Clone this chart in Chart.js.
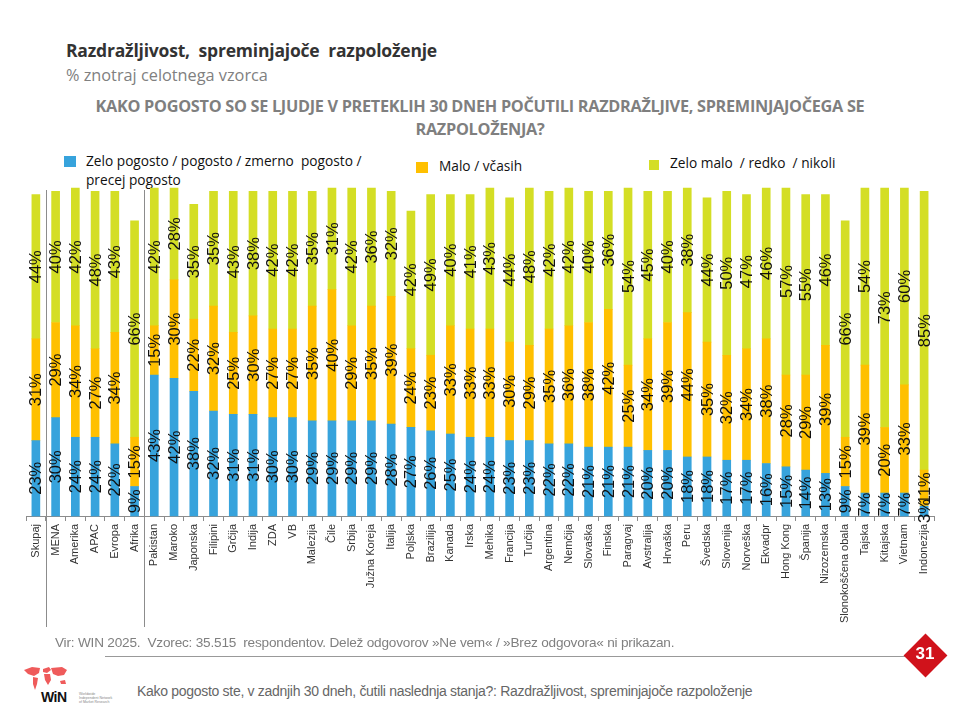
<!DOCTYPE html>
<html>
<head>
<meta charset="utf-8">
<script src="https://cdn.jsdelivr.net/npm/chart.js@4"></script>
<style>
  html, body { margin:0; padding:0; background:#fff; }
  body { width:960px; height:720px; position:relative; overflow:hidden; font-family:"Liberation Sans", Arial, sans-serif; }
  #wrap { position:absolute; left:0; top:0; width:960px; height:640px; }
  .abs { position:absolute; white-space:nowrap; }
  .sq { position:absolute; width:12px; height:11px; }
</style>
</head>
<body>
<div class="abs" style="left:66px;top:38px;font-size:17.5px;font-weight:bold;color:#333;font-family:'Open Sans',sans-serif;letter-spacing:-0.2px;">Razdražljivost,&nbsp; spreminjajoče&nbsp; razpoloženje</div>
<div class="abs" style="left:66px;top:64px;font-size:16.3px;color:#808080;font-family:'Open Sans',sans-serif;">% znotraj celotnega vzorca</div>
<div class="abs" style="left:0;width:960px;top:95px;text-align:center;font-size:16.3px;font-weight:bold;color:#7f7f7f;line-height:23px;font-family:'Open Sans',sans-serif;letter-spacing:-0.3px;">KAKO POGOSTO SO SE LJUDJE V PRETEKLIH 30 DNEH POČUTILI RAZDRAŽLJIVE, SPREMINJAJOČEGA SE<br>RAZPOLOŽENJA?</div>

<div class="sq" style="left:64px;top:156px;background:#37a3dc;"></div>
<div class="abs" style="left:86px;top:151px;font-size:13.7px;color:#111;line-height:19px;font-family:'Open Sans',sans-serif;">Zelo pogosto / pogosto / zmerno&nbsp; pogosto /<br>precej pogosto</div>
<div class="sq" style="left:416px;top:162px;background:#ffc000;"></div>
<div class="abs" style="left:439px;top:156px;font-size:13.7px;color:#111;font-family:'Open Sans',sans-serif;">Malo / včasih</div>
<div class="sq" style="left:649px;top:160px;width:10px;height:10px;background:#d4de25;"></div>
<div class="abs" style="left:670px;top:153px;font-size:13.7px;color:#111;font-family:'Open Sans',sans-serif;">Zelo malo&nbsp; / redko&nbsp; / nikoli</div>

<div id="wrap"><canvas id="c" width="960" height="640"></canvas></div>

<div class="abs" style="left:55px;top:635px;font-size:13.6px;color:#808080;letter-spacing:-0.2px;">Vir: WIN 2025.&nbsp; Vzorec: 35.515&nbsp; respondentov. Delež odgovorov »Ne vem« / »Brez odgovora« ni prikazan.</div>
<div class="abs" style="left:105px;top:656px;width:800px;height:1px;background:#999;"></div>
<div class="abs" style="left:910px;top:640px;width:31px;height:31px;background:#d0121b;transform:rotate(45deg);"></div>
<div class="abs" style="left:903px;top:644px;width:44px;text-align:center;font-size:17px;font-weight:bold;color:#fff;">31</div>

<svg class="abs" style="left:22px;top:666px;" width="46" height="26" viewBox="0 0 46 26">
  <g fill="#ef5b5b">
    <path d="M2 4 L10 1 L18 2 L17 7 L12 10 L9 9 L6 8 Z"/>
    <path d="M11 11 L16 12 L15 18 L13 24 L11 18 Z"/>
    <path d="M21 3 L27 1 L29 4 L25 7 L21 6 Z"/>
    <path d="M22 8 L28 8 L29 14 L26 19 L23 14 Z"/>
    <path d="M29 2 L40 1 L45 4 L42 9 L36 10 L31 8 Z"/>
    <path d="M38 15 L43 14 L44 18 L39 18 Z"/>
  </g>
</svg>
<div class="abs" style="left:41px;top:689px;font-size:14px;font-weight:bold;color:#111;letter-spacing:-0.5px;">WiN</div>
<div class="abs" style="left:79px;top:692px;font-size:3.5px;line-height:4px;color:#888;">Worldwide<br>Independent Network<br>of Market Research</div>
<div class="abs" style="left:137px;top:683px;font-size:14px;color:#666;letter-spacing:-0.3px;">Kako pogosto ste, v zadnjih 30 dneh, čutili naslednja stanja?: Razdražljivost, spreminjajoče razpoloženje</div>

<script>
const categories = ["Skupaj","MENA","Amerika","APAC","Evropa","Afrika","Pakistan","Maroko","Japonska","Filipini","Grčija","Indija","ZDA","VB","Malezija","Čile","Srbija","Južna Koreja","Italija","Poljska","Brazilija","Kanada","Irska","Mehika","Francija","Turčija","Argentina","Nemčija","Slovaška","Finska","Paragvaj","Avstralija","Hrvaška","Peru","Švedska","Slovenija","Norveška","Ekvadpr","Hong Kong","Španija","Nizozemska","Slonokoščena obala","Tajska","Kitajska","Vietnam","Indonezija"];
const often = [23,30,24,24,22,9,43,42,38,32,31,31,30,30,29,29,29,29,28,27,26,25,24,24,23,23,22,22,21,21,21,20,20,18,18,17,17,16,15,14,13,9,7,7,7,3];
const sometimes = [31,29,34,27,34,15,15,30,22,32,25,30,27,27,35,40,29,35,39,24,23,33,33,33,30,29,35,36,38,42,25,34,39,44,35,32,34,38,28,29,39,15,39,20,33,11];
const rarely = [44,40,42,48,43,66,42,28,35,35,43,38,42,42,35,31,42,36,32,42,49,40,41,43,44,48,42,42,40,36,54,45,40,38,44,50,47,46,57,55,46,66,54,73,60,85];
const seriesNames = ["Zelo pogosto / pogosto / zmerno pogosto / precej pogosto","Malo / včasih","Zelo malo / redko / nikoli"];
const separatorsAfter = [0,5];

const labelPlugin = {
  id:'segLabels',
  afterDatasetsDraw(chart){
    const ctx = chart.ctx;
    ctx.save();
    ctx.font = '16.5px "Liberation Sans", Arial, sans-serif';
    ctx.fillStyle = '#111';
    ctx.textAlign = 'center';
    ctx.textBaseline = 'middle';
    chart.data.datasets.forEach((ds, di) => {
      const meta = chart.getDatasetMeta(di);
      meta.data.forEach((bar, i) => {
        const v = ds.data[i];
        const cy = (bar.y + bar.base) / 2;
        ctx.save();
        ctx.translate(bar.x, cy);
        ctx.rotate(-Math.PI/2);
        ctx.fillText(v + '%', 0, 1);
        ctx.restore();
      });
    });
    const xs = chart.scales.x;
    ctx.strokeStyle = '#8c8c8c';
    ctx.lineWidth = 1;
    separatorsAfter.forEach(idx => {
      const x = Math.round((xs.getPixelForValue(idx) + xs.getPixelForValue(idx+1)) / 2) + 0.5;
      ctx.beginPath();
      ctx.moveTo(x, 190);
      ctx.lineTo(x, 627);
      ctx.stroke();
    });
    ctx.restore();
  }
};

new Chart(document.getElementById('c'), {
  type:'bar',
  data:{
    labels: categories,
    datasets:[
      {label:seriesNames[0], data:often, backgroundColor:'#37a3dc'},
      {label:seriesNames[1], data:sometimes, backgroundColor:'#ffc000'},
      {label:seriesNames[2], data:rarely, backgroundColor:'#d4de25'}
    ]
  },
  options:{
    responsive:false,
    animation:false,
    devicePixelRatio:1,
    layout:{padding:{top:188,left:26,right:26,bottom:0}},
    datasets:{bar:{barThickness:8, borderWidth:0, clip:false}},
    plugins:{legend:{display:false}, tooltip:{enabled:false}},
    scales:{
      x:{
        stacked:true,
        afterFit(scale){ scale.height = 124; },
        border:{display:true, color:'#8c8c8c'},
        grid:{display:true, drawOnChartArea:false, drawTicks:true, tickLength:5, offset:true, color:'#8c8c8c'},
        ticks:{autoSkip:false, minRotation:90, maxRotation:90, padding:3, color:'#333', font:{size:11, family:'"Liberation Sans", Arial, sans-serif'}}
      },
      y:{stacked:true, display:false, min:0, max:100}
    }
  },
  plugins:[labelPlugin]
});
</script>
</body>
</html>
